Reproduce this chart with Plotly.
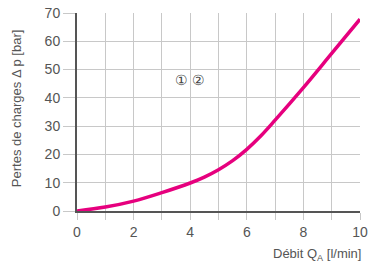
import plotly.graph_objects as go

flow = [0, 1, 2, 3, 4, 4.5, 5, 5.5, 6, 6.5, 7, 8, 9, 10]
pressure = [0, 1.4, 3.5, 6.5, 9.9, 12.0, 14.6, 17.8, 21.8, 26.6, 32.1, 43.6, 55.7, 67.8]
x_ticks = [0, 2, 4, 6, 8, 10]
y_ticks = [0, 10, 20, 30, 40, 50, 60, 70]

font = "Liberation Sans"
txt = "#555555"
grid = "#c8c8c8"

fig = go.Figure()
fig.add_trace(go.Scatter(x=flow, y=pressure, mode="lines",
                         line=dict(color="#e6007e", width=3.5, shape="spline", smoothing=1.0),
                         hoverinfo="skip", showlegend=False))

fig.update_layout(
    width=369, height=266,
    margin=dict(l=77, r=9, t=13, b=55, autoexpand=False),
    paper_bgcolor="white", plot_bgcolor="white",
    font=dict(family=font, color=txt, size=14),
    xaxis=dict(range=[0, 10], tickvals=x_ticks,
               showgrid=True, gridcolor=grid, gridwidth=1,
               ticks="outside", ticklen=7, tickcolor=grid, tickwidth=1,
               minor=dict(dtick=1, tick0=0, showgrid=True, gridcolor=grid, gridwidth=1,
                          ticks="outside", ticklen=7, tickcolor=grid, tickwidth=1),
               showline=True, linecolor="#555555", linewidth=2,
               zeroline=False, fixedrange=True, automargin=False,
               tickfont=dict(size=14, color=txt)),
    yaxis=dict(range=[0, 70], tickvals=y_ticks,
               showgrid=True, gridcolor=grid, gridwidth=1,
               ticks="outside", ticklen=12, tickcolor=grid, tickwidth=1,
               showline=True, linecolor="#555555", linewidth=2,
               zeroline=False, fixedrange=True, automargin=False,
               tickfont=dict(size=14, color=txt)),
    annotations=[
        dict(text="Débit Q<sub>A</sub> [l/min]", xref="paper", yref="paper",
             x=1.01, y=-0.165, xanchor="right", yanchor="top", showarrow=False,
             font=dict(size=13, color=txt)),
        dict(text="Pertes de charges Δ p [bar]", xref="paper", yref="paper",
             x=-0.215, y=0.52, xanchor="center", yanchor="middle",
             textangle=-90, showarrow=False, font=dict(size=13, color=txt)),
        dict(text="① ②", xref="x", yref="y", x=4.0, y=46.3,
             showarrow=False, font=dict(size=14, color="#444444")),
    ],
)

fig.write_html("out.html", config={"displayModeBar": False},
               post_script=("document.documentElement.style.margin='0';"
                            "document.documentElement.style.overflow='hidden';"
                            "document.body.style.margin='0';"
                            "document.body.style.padding='0';"
                            "document.body.style.overflow='hidden';"))
